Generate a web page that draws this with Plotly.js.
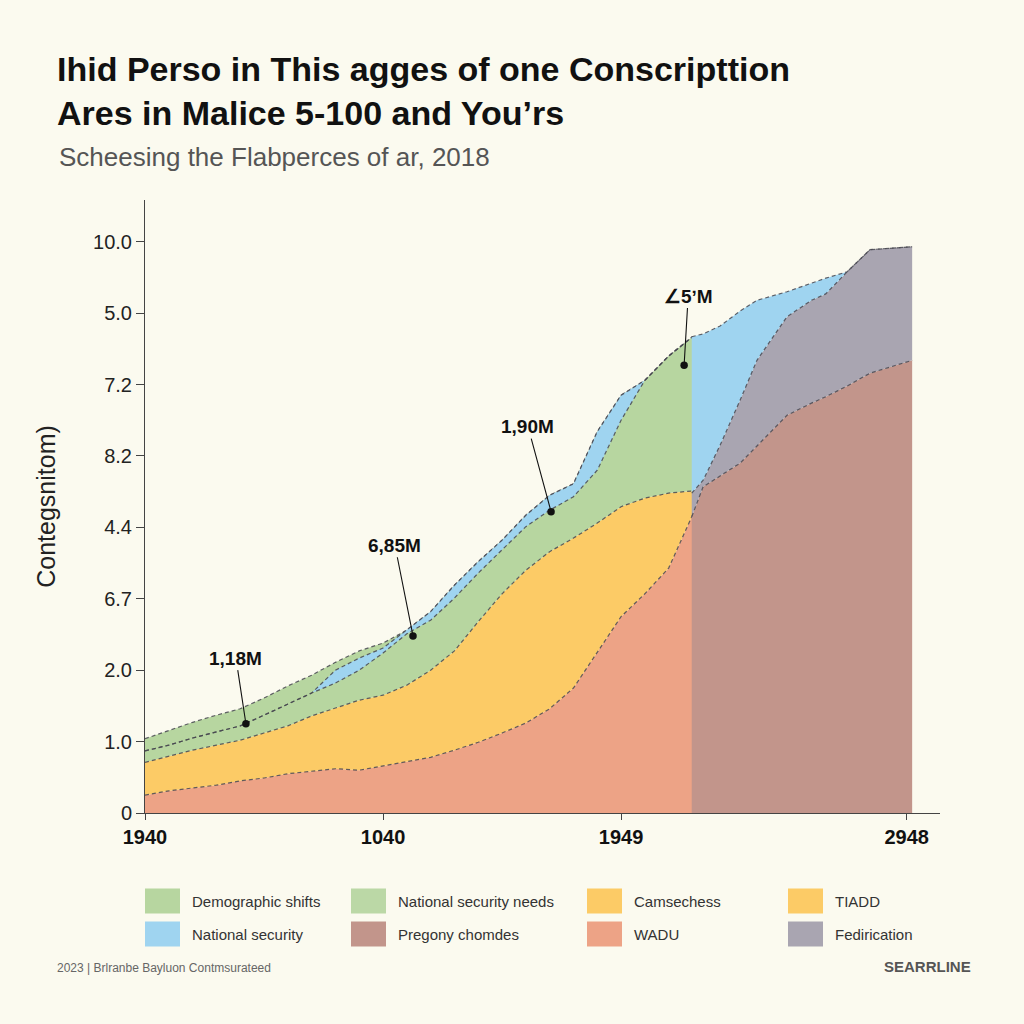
<!DOCTYPE html>
<html>
<head>
<meta charset="utf-8">
<script src="https://cdn.plot.ly/plotly-3.0.1.min.js"></script>
<style>html,body{margin:0;padding:0;background:#FBFAEF;}#chart{width:1024px;height:1024px;}</style>
</head>
<body>
<div id="chart"></div>
<script>
// ---------- data (values in axis-position units) ----------
const leftX = [0,1,2,3,4,5,6,7,8,9,10,11,12,13,14,15,16,17,18,19,20,21,22,23];
const wadu = [0.25,0.31,0.35,0.39,0.45,0.49,0.55,0.59,0.62,0.60,0.66,0.71,0.78,0.88,0.99,1.12,1.26,1.46,1.75,2.25,2.75,3.07,3.43,4.17];
const camsechess = [0.71,0.80,0.88,0.95,1.02,1.12,1.22,1.36,1.47,1.58,1.65,1.79,2.00,2.27,2.68,3.07,3.40,3.66,3.85,4.06,4.29,4.41,4.48,4.51];
const demographic = [1.04,1.16,1.27,1.37,1.46,1.61,1.78,1.93,2.11,2.27,2.38,2.56,2.82,3.19,3.52,3.82,4.17,4.45,4.61,5.34,5.85,6.06,6.40,6.67];
const securityLow = [0.87,0.95,1.05,1.13,1.22,1.37,1.53,1.68,1.82,2.00,2.24,2.51,2.70,3.01,3.36,3.68,4.01,4.24,4.43,4.80,5.50,6.06,6.40,6.67];
const securityHigh = [0.87,0.95,1.05,1.13,1.22,1.37,1.53,1.68,2.00,2.17,2.31,2.56,2.82,3.19,3.52,3.82,4.17,4.45,4.61,5.34,5.85,6.06,6.40,6.67];

const rightX = [22.97,23.45,24.16,25.0,25.71,26.97,28.0,28.6,29.5,30.46,32.23];
const pregony = [4.15,4.57,4.72,4.90,5.14,5.57,5.74,5.83,5.98,6.16,6.34];
const fedirication = [4.48,4.66,5.15,5.78,6.34,6.95,7.18,7.27,7.58,7.89,7.93];
const securityRight = [6.67,6.71,6.82,7.03,7.18,7.30,7.42,7.49,7.58,7.89,7.93];

const yTickVals = [0,1,2,3,4,5,6,7,8];
const yTickText = ['0','1.0','2.0','6.7','4.4','8.2','7.2','5.0','10.0'];
const xTickVals = [0,10,20,32];
const xTickText = ['1940','1040','1949','2948'];

const calloutText = ['1,18M','6,85M','1,90M','∠5ʼM'];
const calloutX = [4.24,11.26,17.06,22.65];
const calloutY = [1.25,2.48,4.22,6.27];
const calloutTextX = [3.82,10.5,16.09,22.82];
const calloutTextY = [2.17,3.75,5.41,7.24];

const legendLabels = ['Demographic shifts','National security needs','Camsechess','TIADD',
                      'National security','Pregony chomdes','WADU','Fedirication'];

// ---------- styles ----------
const C = {
  green:'#B7D6A0', green2:'#BBD8A6', yellow:'#FCCB66', blue:'#9FD4F0',
  brown:'#C2958B', salmon:'#EDA386', gray:'#A9A5B1'
};
const legendColors = [C.green, C.green2, C.yellow, C.yellow, C.blue, C.brown, C.salmon, C.gray];
const dashLine = {color:'rgba(70,70,80,0.85)', width:1.2, dash:'4px,3px'};
const BG = '#FBFAEF';
const FONT = 'Liberation Sans, Arial, sans-serif';

function area(x, y, fill, color){
  return {x:x, y:y, type:'scatter', mode:'lines', fill:fill, fillcolor:color,
          line:dashLine, hoverinfo:'skip', showlegend:false};
}

const traces = [
  area(leftX, wadu, 'tozeroy', C.salmon),
  area(leftX, camsechess, 'tonexty', C.yellow),
  area(leftX, demographic, 'tonexty', C.green),
  {x:leftX, y:securityLow, type:'scatter', mode:'lines', line:dashLine, hoverinfo:'skip', showlegend:false},
  area(leftX, securityHigh, 'tonexty', C.blue),
  area(rightX, pregony, 'tozeroy', C.brown),
  area(rightX, fedirication, 'tonexty', C.gray),
  area(rightX, securityRight, 'tonexty', C.blue)
];

// ---------- layout helpers (pixel -> paper) ----------
const L = 145, R = 940, T = 200, B = 813;
const pxX = p => (p - L) / (R - L);
const pxY = p => (B - p) / (B - T);

const annotations = [];
for (let i = 0; i < calloutText.length; i++) {
  annotations.push({
    x: calloutX[i], y: calloutY[i], xref:'x', yref:'y',
    ax: calloutTextX[i], ay: calloutTextY[i], axref:'x', ayref:'y',
    text: calloutText[i], showarrow:true, arrowhead:6, arrowsize:1.7, arrowwidth:1.1,
    arrowcolor:'#111', standoff:0,
    font:{family:FONT, size:19, color:'#111', weight:700}
  });
}
annotations.push({
  xref:'paper', yref:'paper', x:pxX(57), y:pxY(157), xanchor:'left', yanchor:'middle',
  text:'Scheesing the Flabperces of ar, 2018', showarrow:false,
  font:{family:FONT, size:26, color:'#555'}
});
annotations.push({
  xref:'paper', yref:'paper', x:pxX(55), y:pxY(968), xanchor:'left', yanchor:'middle',
  text:'2023 | Brlranbe Bayluon Contmsurateed', showarrow:false,
  font:{family:FONT, size:12, color:'#666'}
});
annotations.push({
  xref:'paper', yref:'paper', x:pxX(973), y:pxY(966), xanchor:'right', yanchor:'middle',
  text:'<b>SEARRLINE</b>', showarrow:false,
  font:{family:FONT, size:15, color:'#555'}
});

const shapes = [];
const colPx = [145, 351, 587, 788];
const rowPx = [901, 934];
legendLabels.forEach((lab, i) => {
  const c = colPx[i % 4], r = rowPx[Math.floor(i / 4)];
  shapes.push({type:'rect', xref:'paper', yref:'paper',
    x0:pxX(c), x1:pxX(c + 35), y0:pxY(r + 12.5), y1:pxY(r - 12.5),
    fillcolor:legendColors[i], line:{width:0}, layer:'above'});
  annotations.push({xref:'paper', yref:'paper', x:pxX(c + 45), y:pxY(r),
    xanchor:'left', yanchor:'middle', text:lab, showarrow:false,
    font:{family:FONT, size:15, color:'#333'}});
});

const layout = {
  width:1024, height:1024,
  paper_bgcolor:BG, plot_bgcolor:BG,
  margin:{l:L, r:1024 - R, t:T, b:1024 - B},
  title:{
    text:'<b>Ihid Perso in This agges of one Conscripttion</b><br><b>Ares in Malice 5-100 and You’rs</b>',
    x:57/1024, xanchor:'left', xref:'container',
    y:1 - 81/1024, yanchor:'top', yref:'container',
    font:{family:FONT, size:34, color:'#111'}
  },
  xaxis:{
    range:[0, 33.4], tickvals:xTickVals, ticktext:xTickText,
    showgrid:false, zeroline:false, showline:true, linecolor:'#444', linewidth:1,
    ticks:'outside', ticklen:6, tickcolor:'#444',
    tickfont:{family:FONT, size:20, color:'#111', weight:700},
    fixedrange:true
  },
  yaxis:{
    range:[0, 8.585], tickvals:yTickVals, ticktext:yTickText,
    showgrid:false, zeroline:false, showline:true, linecolor:'#444', linewidth:1,
    ticks:'outside', ticklen:8, tickcolor:'#444',
    tickfont:{family:FONT, size:20, color:'#222'},
    title:{text:'Contegsnitom)', standoff:30,
      font:{family:FONT, size:25, color:'#222'}},
    fixedrange:true
  },
  showlegend:false,
  annotations:annotations,
  shapes:shapes
};

Plotly.newPlot('chart', traces, layout, {displayModeBar:false, staticPlot:true});
</script>
</body>
</html>
